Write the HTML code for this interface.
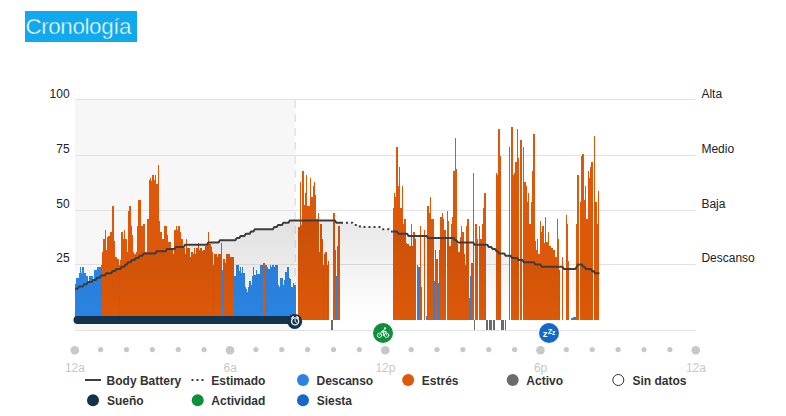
<!DOCTYPE html><html><head><meta charset="utf-8"><title>Cronología</title><style>
html,body{margin:0;padding:0;background:#fff;}
body{width:786px;height:416px;position:relative;overflow:hidden;font-family:"Liberation Sans",sans-serif;}
.t{position:absolute;white-space:nowrap;line-height:1;}
.yl{font-size:12px;color:#222;}
.xl{font-size:12px;color:#c8c8c8;width:40px;text-align:center;}
.lg{font-size:12px;font-weight:bold;color:#333;}
#title{left:25px;top:11px;width:112px;height:31px;background:#11a9ed;color:#fff;font-size:22.4px;letter-spacing:-0.38px;}
#title span{position:absolute;left:0.4px;top:4.4px;line-height:24px;-webkit-text-stroke:0.45px #11a9ed;}
</style></head><body>
<div class="t" id="title"><span>Cronología</span></div>
<svg width="786" height="416" viewBox="0 0 786 416" style="position:absolute;left:0;top:0">
<defs><linearGradient id="ag" x1="0" y1="0" x2="0" y2="1"><stop offset="0" stop-color="#000" stop-opacity="0.09"/><stop offset="1" stop-color="#000" stop-opacity="0"/></linearGradient></defs>
<rect x="75" y="100" width="220" height="230" fill="#f7f7f7"/>
<rect x="75" y="99" width="621" height="1" fill="#e1e1e1" shape-rendering="crispEdges"/>
<rect x="75" y="155" width="621" height="1" fill="#e1e1e1" shape-rendering="crispEdges"/>
<rect x="75" y="210" width="621" height="1" fill="#e1e1e1" shape-rendering="crispEdges"/>
<rect x="75" y="264" width="621" height="1" fill="#e1e1e1" shape-rendering="crispEdges"/>
<rect x="75" y="330" width="621" height="1" fill="#e1e1e1" shape-rendering="crispEdges"/>
<line x1="295.3" y1="100" x2="295.3" y2="316" stroke="#e4e4e4" stroke-width="1.6" stroke-dasharray="8 6"/>
<g shape-rendering="crispEdges">
<rect x="75" y="284" width="1" height="36" fill="#2b84e2"/>
<rect x="76" y="278" width="3" height="42" fill="#2b84e2"/>
<rect x="79" y="273" width="1" height="47" fill="#2b84e2"/>
<rect x="80" y="267" width="1" height="53" fill="#2b84e2"/>
<rect x="81" y="273" width="1" height="47" fill="#2b84e2"/>
<rect x="82" y="267" width="2" height="53" fill="#2b84e2"/>
<rect x="84" y="273" width="2" height="47" fill="#2b84e2"/>
<rect x="86" y="276" width="2" height="44" fill="#2b84e2"/>
<rect x="88" y="282" width="1" height="38" fill="#2b84e2"/>
<rect x="89" y="276" width="4" height="44" fill="#2b84e2"/>
<rect x="93" y="281" width="1" height="39" fill="#2b84e2"/>
<rect x="94" y="270" width="3" height="50" fill="#2b84e2"/>
<rect x="97" y="267" width="4" height="53" fill="#2b84e2"/>
<rect x="101" y="265" width="1" height="55" fill="#2b84e2"/>
<rect x="102" y="252" width="1" height="68" fill="#dd5809"/>
<rect x="103" y="239" width="2" height="81" fill="#dd5809"/>
<rect x="105" y="230" width="1" height="90" fill="#dd5809"/>
<rect x="106" y="250" width="1" height="70" fill="#dd5809"/>
<rect x="107" y="237" width="1" height="83" fill="#dd5809"/>
<rect x="108" y="236" width="2" height="84" fill="#dd5809"/>
<rect x="110" y="232" width="2" height="88" fill="#dd5809"/>
<rect x="112" y="206" width="2" height="114" fill="#dd5809"/>
<rect x="114" y="241" width="1" height="79" fill="#dd5809"/>
<rect x="115" y="257" width="2" height="63" fill="#dd5809"/>
<rect x="117" y="259" width="1" height="61" fill="#dd5809"/>
<rect x="118" y="259" width="1" height="61" fill="#dd5809"/>
<rect x="119" y="265" width="1" height="55" fill="#2b84e2"/>
<rect x="120" y="260" width="1" height="60" fill="#dd5809"/>
<rect x="121" y="232" width="2" height="88" fill="#dd5809"/>
<rect x="123" y="239" width="1" height="81" fill="#dd5809"/>
<rect x="124" y="230" width="1" height="90" fill="#dd5809"/>
<rect x="125" y="239" width="2" height="81" fill="#dd5809"/>
<rect x="127" y="252" width="1" height="68" fill="#dd5809"/>
<rect x="128" y="211" width="1" height="109" fill="#dd5809"/>
<rect x="129" y="206" width="2" height="114" fill="#dd5809"/>
<rect x="131" y="226" width="1" height="94" fill="#dd5809"/>
<rect x="132" y="235" width="1" height="85" fill="#dd5809"/>
<rect x="133" y="252" width="1" height="68" fill="#dd5809"/>
<rect x="134" y="254" width="2" height="66" fill="#dd5809"/>
<rect x="136" y="252" width="1" height="68" fill="#dd5809"/>
<rect x="137" y="226" width="1" height="94" fill="#dd5809"/>
<rect x="138" y="200" width="3" height="120" fill="#dd5809"/>
<rect x="141" y="226" width="2" height="94" fill="#dd5809"/>
<rect x="143" y="224" width="2" height="96" fill="#dd5809"/>
<rect x="145" y="252" width="2" height="68" fill="#dd5809"/>
<rect x="147" y="219" width="2" height="101" fill="#dd5809"/>
<rect x="149" y="180" width="1" height="140" fill="#dd5809"/>
<rect x="150" y="178" width="1" height="142" fill="#dd5809"/>
<rect x="151" y="181" width="1" height="139" fill="#dd5809"/>
<rect x="152" y="175" width="2" height="145" fill="#dd5809"/>
<rect x="154" y="180" width="1" height="140" fill="#dd5809"/>
<rect x="155" y="175" width="1" height="145" fill="#dd5809"/>
<rect x="156" y="184" width="2" height="136" fill="#dd5809"/>
<rect x="158" y="165" width="1" height="155" fill="#dd5809"/>
<rect x="159" y="221" width="1" height="99" fill="#dd5809"/>
<rect x="160" y="232" width="2" height="88" fill="#dd5809"/>
<rect x="162" y="239" width="2" height="81" fill="#dd5809"/>
<rect x="164" y="226" width="3" height="94" fill="#dd5809"/>
<rect x="167" y="235" width="1" height="85" fill="#dd5809"/>
<rect x="168" y="242" width="3" height="78" fill="#dd5809"/>
<rect x="171" y="248" width="2" height="72" fill="#dd5809"/>
<rect x="173" y="254" width="1" height="66" fill="#dd5809"/>
<rect x="174" y="230" width="2" height="90" fill="#dd5809"/>
<rect x="176" y="226" width="1" height="94" fill="#dd5809"/>
<rect x="177" y="230" width="1" height="90" fill="#dd5809"/>
<rect x="178" y="226" width="2" height="94" fill="#dd5809"/>
<rect x="180" y="232" width="1" height="88" fill="#dd5809"/>
<rect x="181" y="239" width="2" height="81" fill="#dd5809"/>
<rect x="183" y="248" width="2" height="72" fill="#dd5809"/>
<rect x="185" y="254" width="1" height="66" fill="#dd5809"/>
<rect x="186" y="239" width="1" height="81" fill="#dd5809"/>
<rect x="187" y="248" width="3" height="72" fill="#dd5809"/>
<rect x="190" y="257" width="1" height="63" fill="#dd5809"/>
<rect x="191" y="252" width="2" height="68" fill="#dd5809"/>
<rect x="193" y="254" width="1" height="66" fill="#dd5809"/>
<rect x="194" y="248" width="1" height="72" fill="#dd5809"/>
<rect x="195" y="254" width="1" height="66" fill="#dd5809"/>
<rect x="196" y="248" width="2" height="72" fill="#dd5809"/>
<rect x="198" y="243" width="1" height="77" fill="#dd5809"/>
<rect x="199" y="250" width="1" height="70" fill="#dd5809"/>
<rect x="200" y="248" width="2" height="72" fill="#dd5809"/>
<rect x="202" y="251" width="1" height="69" fill="#dd5809"/>
<rect x="203" y="250" width="2" height="70" fill="#dd5809"/>
<rect x="205" y="246" width="2" height="74" fill="#dd5809"/>
<rect x="207" y="243" width="1" height="77" fill="#dd5809"/>
<rect x="208" y="232" width="1" height="88" fill="#dd5809"/>
<rect x="209" y="244" width="2" height="76" fill="#dd5809"/>
<rect x="211" y="247" width="1" height="73" fill="#dd5809"/>
<rect x="212" y="252" width="1" height="68" fill="#dd5809"/>
<rect x="213" y="265" width="1" height="55" fill="#2b84e2"/>
<rect x="214" y="254" width="3" height="66" fill="#dd5809"/>
<rect x="217" y="257" width="1" height="63" fill="#dd5809"/>
<rect x="218" y="254" width="3" height="66" fill="#dd5809"/>
<rect x="221" y="243" width="1" height="77" fill="#dd5809"/>
<rect x="222" y="270" width="1" height="50" fill="#2b84e2"/>
<rect x="223" y="259" width="2" height="61" fill="#dd5809"/>
<rect x="225" y="263" width="1" height="57" fill="#dd5809"/>
<rect x="226" y="254" width="4" height="66" fill="#dd5809"/>
<rect x="230" y="257" width="4" height="63" fill="#dd5809"/>
<rect x="234" y="276" width="2" height="44" fill="#2b84e2"/>
<rect x="236" y="265" width="3" height="55" fill="#2b84e2"/>
<rect x="239" y="271" width="1" height="49" fill="#2b84e2"/>
<rect x="240" y="267" width="1" height="53" fill="#2b84e2"/>
<rect x="241" y="273" width="1" height="47" fill="#2b84e2"/>
<rect x="242" y="267" width="1" height="53" fill="#2b84e2"/>
<rect x="243" y="273" width="2" height="47" fill="#2b84e2"/>
<rect x="245" y="287" width="1" height="33" fill="#2b84e2"/>
<rect x="246" y="289" width="1" height="31" fill="#2b84e2"/>
<rect x="247" y="292" width="1" height="28" fill="#2b84e2"/>
<rect x="248" y="287" width="1" height="33" fill="#2b84e2"/>
<rect x="249" y="281" width="2" height="39" fill="#2b84e2"/>
<rect x="251" y="285" width="1" height="35" fill="#2b84e2"/>
<rect x="252" y="276" width="1" height="44" fill="#2b84e2"/>
<rect x="253" y="267" width="1" height="53" fill="#2b84e2"/>
<rect x="254" y="275" width="2" height="45" fill="#2b84e2"/>
<rect x="256" y="270" width="1" height="50" fill="#2b84e2"/>
<rect x="257" y="274" width="3" height="46" fill="#2b84e2"/>
<rect x="260" y="265" width="3" height="55" fill="#2b84e2"/>
<rect x="263" y="263" width="2" height="57" fill="#dd5809"/>
<rect x="265" y="265" width="2" height="55" fill="#2b84e2"/>
<rect x="267" y="267" width="1" height="53" fill="#2b84e2"/>
<rect x="268" y="269" width="2" height="51" fill="#2b84e2"/>
<rect x="270" y="265" width="1" height="55" fill="#2b84e2"/>
<rect x="271" y="267" width="1" height="53" fill="#2b84e2"/>
<rect x="272" y="265" width="2" height="55" fill="#2b84e2"/>
<rect x="274" y="267" width="1" height="53" fill="#2b84e2"/>
<rect x="275" y="265" width="3" height="55" fill="#2b84e2"/>
<rect x="278" y="285" width="1" height="35" fill="#2b84e2"/>
<rect x="279" y="287" width="1" height="33" fill="#2b84e2"/>
<rect x="280" y="278" width="3" height="42" fill="#2b84e2"/>
<rect x="283" y="285" width="1" height="35" fill="#2b84e2"/>
<rect x="284" y="280" width="1" height="40" fill="#2b84e2"/>
<rect x="285" y="272" width="2" height="48" fill="#2b84e2"/>
<rect x="287" y="267" width="2" height="53" fill="#2b84e2"/>
<rect x="289" y="278" width="1" height="42" fill="#2b84e2"/>
<rect x="290" y="279" width="1" height="41" fill="#2b84e2"/>
<rect x="291" y="287" width="2" height="33" fill="#2b84e2"/>
<rect x="293" y="283" width="1" height="37" fill="#2b84e2"/>
<rect x="294" y="285" width="2" height="35" fill="#2b84e2"/>
<rect x="298" y="227" width="2" height="93" fill="#dd5809"/>
<rect x="300" y="182" width="1" height="138" fill="#dd5809"/>
<rect x="301" y="225" width="1" height="95" fill="#dd5809"/>
<rect x="302" y="171" width="2" height="149" fill="#dd5809"/>
<rect x="304" y="205" width="1" height="115" fill="#dd5809"/>
<rect x="305" y="193" width="1" height="127" fill="#dd5809"/>
<rect x="306" y="175" width="1" height="145" fill="#dd5809"/>
<rect x="307" y="206" width="3" height="114" fill="#dd5809"/>
<rect x="310" y="178" width="1" height="142" fill="#dd5809"/>
<rect x="311" y="197" width="2" height="123" fill="#dd5809"/>
<rect x="313" y="186" width="1" height="134" fill="#dd5809"/>
<rect x="314" y="182" width="1" height="138" fill="#dd5809"/>
<rect x="315" y="195" width="1" height="125" fill="#dd5809"/>
<rect x="316" y="219" width="2" height="101" fill="#dd5809"/>
<rect x="318" y="213" width="1" height="107" fill="#dd5809"/>
<rect x="319" y="252" width="1" height="68" fill="#dd5809"/>
<rect x="320" y="224" width="2" height="96" fill="#dd5809"/>
<rect x="322" y="239" width="1" height="81" fill="#dd5809"/>
<rect x="323" y="265" width="1" height="55" fill="#2b84e2"/>
<rect x="324" y="254" width="1" height="66" fill="#dd5809"/>
<rect x="325" y="252" width="2" height="68" fill="#dd5809"/>
<rect x="327" y="265" width="1" height="55" fill="#2b84e2"/>
<rect x="328" y="261" width="1" height="59" fill="#dd5809"/>
<rect x="333" y="213" width="2" height="107" fill="#dd5809"/>
<rect x="335" y="250" width="1" height="70" fill="#dd5809"/>
<rect x="336" y="276" width="1" height="44" fill="#2b84e2"/>
<rect x="337" y="246" width="1" height="74" fill="#dd5809"/>
<rect x="338" y="226" width="2" height="94" fill="#dd5809"/>
<rect x="393" y="208" width="1" height="112" fill="#dd5809"/>
<rect x="394" y="193" width="1" height="127" fill="#dd5809"/>
<rect x="395" y="197" width="1" height="123" fill="#dd5809"/>
<rect x="396" y="147" width="2" height="173" fill="#dd5809"/>
<rect x="398" y="186" width="1" height="134" fill="#dd5809"/>
<rect x="399" y="167" width="1" height="153" fill="#dd5809"/>
<rect x="400" y="208" width="2" height="112" fill="#dd5809"/>
<rect x="402" y="186" width="1" height="134" fill="#dd5809"/>
<rect x="403" y="224" width="1" height="96" fill="#dd5809"/>
<rect x="404" y="219" width="2" height="101" fill="#dd5809"/>
<rect x="406" y="243" width="1" height="77" fill="#dd5809"/>
<rect x="407" y="244" width="2" height="76" fill="#dd5809"/>
<rect x="409" y="246" width="2" height="74" fill="#dd5809"/>
<rect x="411" y="224" width="1" height="96" fill="#dd5809"/>
<rect x="412" y="246" width="1" height="74" fill="#dd5809"/>
<rect x="413" y="232" width="2" height="88" fill="#dd5809"/>
<rect x="415" y="239" width="1" height="81" fill="#dd5809"/>
<rect x="417" y="265" width="1" height="55" fill="#2b84e2"/>
<rect x="418" y="267" width="2" height="53" fill="#2b84e2"/>
<rect x="420" y="226" width="1" height="94" fill="#dd5809"/>
<rect x="421" y="287" width="1" height="33" fill="#2b84e2"/>
<rect x="424" y="230" width="1" height="90" fill="#dd5809"/>
<rect x="426" y="316" width="1" height="4" fill="#2b84e2"/>
<rect x="427" y="206" width="2" height="114" fill="#dd5809"/>
<rect x="429" y="213" width="1" height="107" fill="#dd5809"/>
<rect x="430" y="197" width="1" height="123" fill="#dd5809"/>
<rect x="431" y="219" width="2" height="101" fill="#dd5809"/>
<rect x="433" y="219" width="1" height="101" fill="#dd5809"/>
<rect x="434" y="281" width="1" height="39" fill="#2b84e2"/>
<rect x="435" y="250" width="1" height="70" fill="#dd5809"/>
<rect x="436" y="259" width="2" height="61" fill="#dd5809"/>
<rect x="438" y="283" width="1" height="37" fill="#2b84e2"/>
<rect x="439" y="250" width="1" height="70" fill="#dd5809"/>
<rect x="440" y="217" width="2" height="103" fill="#dd5809"/>
<rect x="442" y="213" width="1" height="107" fill="#dd5809"/>
<rect x="443" y="219" width="1" height="101" fill="#dd5809"/>
<rect x="444" y="230" width="2" height="90" fill="#dd5809"/>
<rect x="447" y="211" width="1" height="109" fill="#dd5809"/>
<rect x="448" y="221" width="1" height="99" fill="#dd5809"/>
<rect x="449" y="246" width="2" height="74" fill="#dd5809"/>
<rect x="451" y="224" width="1" height="96" fill="#dd5809"/>
<rect x="452" y="217" width="1" height="103" fill="#dd5809"/>
<rect x="453" y="171" width="2" height="149" fill="#dd5809"/>
<rect x="455" y="138" width="1" height="182" fill="#dd5809"/>
<rect x="456" y="169" width="1" height="151" fill="#dd5809"/>
<rect x="457" y="244" width="1" height="76" fill="#dd5809"/>
<rect x="458" y="252" width="2" height="68" fill="#dd5809"/>
<rect x="460" y="237" width="1" height="83" fill="#dd5809"/>
<rect x="461" y="226" width="1" height="94" fill="#dd5809"/>
<rect x="462" y="232" width="2" height="88" fill="#dd5809"/>
<rect x="464" y="254" width="1" height="66" fill="#dd5809"/>
<rect x="465" y="265" width="1" height="55" fill="#2b84e2"/>
<rect x="466" y="226" width="1" height="94" fill="#dd5809"/>
<rect x="467" y="219" width="2" height="101" fill="#dd5809"/>
<rect x="469" y="298" width="1" height="22" fill="#2b84e2"/>
<rect x="470" y="276" width="1" height="44" fill="#2b84e2"/>
<rect x="471" y="263" width="2" height="57" fill="#dd5809"/>
<rect x="473" y="173" width="1" height="147" fill="#dd5809"/>
<rect x="475" y="224" width="2" height="96" fill="#dd5809"/>
<rect x="477" y="239" width="1" height="81" fill="#dd5809"/>
<rect x="479" y="226" width="1" height="94" fill="#dd5809"/>
<rect x="480" y="239" width="2" height="81" fill="#dd5809"/>
<rect x="482" y="224" width="1" height="96" fill="#dd5809"/>
<rect x="483" y="208" width="1" height="112" fill="#dd5809"/>
<rect x="484" y="193" width="2" height="127" fill="#dd5809"/>
<rect x="496" y="173" width="1" height="147" fill="#dd5809"/>
<rect x="497" y="175" width="1" height="145" fill="#dd5809"/>
<rect x="498" y="129" width="2" height="191" fill="#dd5809"/>
<rect x="500" y="156" width="1" height="164" fill="#dd5809"/>
<rect x="509" y="147" width="1" height="173" fill="#dd5809"/>
<rect x="511" y="127" width="2" height="193" fill="#dd5809"/>
<rect x="513" y="175" width="1" height="145" fill="#dd5809"/>
<rect x="514" y="173" width="1" height="147" fill="#dd5809"/>
<rect x="515" y="162" width="2" height="158" fill="#dd5809"/>
<rect x="517" y="129" width="1" height="191" fill="#dd5809"/>
<rect x="518" y="158" width="1" height="162" fill="#dd5809"/>
<rect x="520" y="140" width="2" height="180" fill="#dd5809"/>
<rect x="523" y="147" width="1" height="173" fill="#dd5809"/>
<rect x="524" y="182" width="2" height="138" fill="#dd5809"/>
<rect x="526" y="186" width="1" height="134" fill="#dd5809"/>
<rect x="527" y="202" width="1" height="118" fill="#dd5809"/>
<rect x="528" y="193" width="1" height="127" fill="#dd5809"/>
<rect x="529" y="224" width="2" height="96" fill="#dd5809"/>
<rect x="531" y="202" width="1" height="118" fill="#dd5809"/>
<rect x="532" y="171" width="1" height="149" fill="#dd5809"/>
<rect x="533" y="134" width="2" height="186" fill="#dd5809"/>
<rect x="535" y="241" width="1" height="79" fill="#dd5809"/>
<rect x="536" y="250" width="1" height="70" fill="#dd5809"/>
<rect x="537" y="239" width="1" height="81" fill="#dd5809"/>
<rect x="538" y="254" width="2" height="66" fill="#dd5809"/>
<rect x="540" y="221" width="1" height="99" fill="#dd5809"/>
<rect x="541" y="232" width="1" height="88" fill="#dd5809"/>
<rect x="542" y="226" width="2" height="94" fill="#dd5809"/>
<rect x="544" y="243" width="1" height="77" fill="#dd5809"/>
<rect x="545" y="217" width="1" height="103" fill="#dd5809"/>
<rect x="546" y="242" width="2" height="78" fill="#dd5809"/>
<rect x="548" y="232" width="1" height="88" fill="#dd5809"/>
<rect x="549" y="246" width="2" height="74" fill="#dd5809"/>
<rect x="551" y="248" width="2" height="72" fill="#dd5809"/>
<rect x="553" y="250" width="2" height="70" fill="#dd5809"/>
<rect x="555" y="257" width="2" height="63" fill="#dd5809"/>
<rect x="557" y="219" width="1" height="101" fill="#dd5809"/>
<rect x="558" y="239" width="1" height="81" fill="#dd5809"/>
<rect x="559" y="270" width="1" height="50" fill="#2b84e2"/>
<rect x="562" y="257" width="1" height="63" fill="#dd5809"/>
<rect x="566" y="215" width="1" height="105" fill="#dd5809"/>
<rect x="567" y="224" width="1" height="96" fill="#dd5809"/>
<rect x="568" y="261" width="1" height="59" fill="#dd5809"/>
<rect x="571" y="318" width="2" height="2" fill="#2b84e2"/>
<rect x="573" y="317" width="3" height="3" fill="#2b84e2"/>
<rect x="576" y="224" width="1" height="96" fill="#dd5809"/>
<rect x="577" y="175" width="2" height="145" fill="#dd5809"/>
<rect x="580" y="202" width="1" height="118" fill="#dd5809"/>
<rect x="581" y="156" width="1" height="164" fill="#dd5809"/>
<rect x="582" y="154" width="2" height="166" fill="#dd5809"/>
<rect x="584" y="200" width="1" height="120" fill="#dd5809"/>
<rect x="585" y="186" width="1" height="134" fill="#dd5809"/>
<rect x="586" y="219" width="2" height="101" fill="#dd5809"/>
<rect x="588" y="171" width="1" height="149" fill="#dd5809"/>
<rect x="589" y="178" width="1" height="142" fill="#dd5809"/>
<rect x="590" y="167" width="1" height="153" fill="#dd5809"/>
<rect x="591" y="162" width="2" height="158" fill="#dd5809"/>
<rect x="594" y="136" width="1" height="184" fill="#dd5809"/>
<rect x="595" y="202" width="2" height="118" fill="#dd5809"/>
<rect x="597" y="224" width="1" height="96" fill="#dd5809"/>
<rect x="598" y="191" width="1" height="129" fill="#dd5809"/>
<rect x="331" y="320" width="2" height="10" fill="#6b6b6b"/>
<rect x="474" y="320" width="1" height="10" fill="#6b6b6b"/>
<rect x="486" y="320" width="2" height="10" fill="#6b6b6b"/>
<rect x="489" y="320" width="3" height="10" fill="#6b6b6b"/>
<rect x="493" y="320" width="2" height="10" fill="#6b6b6b"/>
<rect x="501" y="320" width="3" height="10" fill="#6b6b6b"/>
<rect x="505" y="320" width="1" height="10" fill="#6b6b6b"/>
</g>
<polygon points="75.0,288.7 77.6,288.7 78.9,286.5 82.8,286.5 84.1,284.3 86.6,284.3 87.9,282.1 91.8,282.1 93.1,279.9 95.7,279.9 97.0,277.7 99.6,277.7 100.9,275.5 104.8,275.5 106.1,273.3 111.2,273.3 112.5,271.1 115.1,271.1 116.4,268.9 120.3,268.9 121.6,266.7 124.2,266.7 125.5,264.5 126.8,264.5 128.0,262.3 130.6,262.3 131.9,260.1 134.5,260.1 135.8,257.9 138.4,257.9 139.7,255.7 142.3,255.7 143.6,253.5 155.2,253.5 156.5,251.3 165.6,251.3 166.9,249.1 174.6,249.1 175.9,246.9 183.7,246.9 185.0,244.7 207.0,244.7 208.3,242.5 218.6,242.5 219.9,240.3 235.4,240.3 236.7,238.1 239.3,238.1 240.6,235.9 244.5,235.9 245.8,233.7 249.7,233.7 250.9,231.5 253.5,231.5 254.8,229.3 272.9,229.3 274.2,227.1 276.8,227.1 278.1,224.9 282.0,224.9 283.3,222.7 288.5,222.7 289.8,220.5 335.0,220.5 336.3,222.7 341.0,222.7 352.6,222.7 353.9,224.9 359.1,224.9 360.4,227.1 379.8,227.1 381.1,229.3 388.9,229.3 390.2,231.5 392.7,231.5 396.9,231.5 398.2,233.7 407.2,233.7 408.5,235.9 426.6,235.9 427.9,238.1 453.8,238.1 455.1,240.3 456.4,240.3 457.7,242.5 473.2,242.5 474.5,244.7 487.4,244.7 488.7,246.9 491.3,246.9 492.6,249.1 495.2,249.1 496.5,251.3 497.8,251.3 499.1,253.5 504.3,253.5 505.6,255.7 510.7,255.7 512.0,257.9 517.2,257.9 518.5,260.1 522.4,260.1 523.7,262.3 534.0,262.3 535.3,264.5 540.5,264.5 541.8,266.7 562.5,266.7 563.8,268.9 575.4,268.9 576.7,266.7 578.0,264.5 581.9,264.5 583.2,266.7 584.5,266.7 585.8,268.9 590.9,268.9 592.2,271.1 593.5,271.1 594.8,273.3 599.5,273.3 599.5,320 75,320" fill="url(#ag)"/>
<polyline points="75.0,288.7 77.6,288.7 78.9,286.5 82.8,286.5 84.1,284.3 86.6,284.3 87.9,282.1 91.8,282.1 93.1,279.9 95.7,279.9 97.0,277.7 99.6,277.7 100.9,275.5 104.8,275.5 106.1,273.3 111.2,273.3 112.5,271.1 115.1,271.1 116.4,268.9 120.3,268.9 121.6,266.7 124.2,266.7 125.5,264.5 126.8,264.5 128.0,262.3 130.6,262.3 131.9,260.1 134.5,260.1 135.8,257.9 138.4,257.9 139.7,255.7 142.3,255.7 143.6,253.5 155.2,253.5 156.5,251.3 165.6,251.3 166.9,249.1 174.6,249.1 175.9,246.9 183.7,246.9 185.0,244.7 207.0,244.7 208.3,242.5 218.6,242.5 219.9,240.3 235.4,240.3 236.7,238.1 239.3,238.1 240.6,235.9 244.5,235.9 245.8,233.7 249.7,233.7 250.9,231.5 253.5,231.5 254.8,229.3 272.9,229.3 274.2,227.1 276.8,227.1 278.1,224.9 282.0,224.9 283.3,222.7 288.5,222.7 289.8,220.5 335.0,220.5 336.3,222.7 341.0,222.7" fill="none" stroke="#3d3d3d" stroke-width="2" stroke-linejoin="round"/>
<polyline points="341.0,222.7 352.6,222.7 353.9,224.9 359.1,224.9 360.4,227.1 379.8,227.1 381.1,229.3 388.9,229.3 390.2,231.5 392.7,231.5" fill="none" stroke="#3d3d3d" stroke-width="2" stroke-dasharray="2 3"/>
<polyline points="392.7,231.5 396.9,231.5 398.2,233.7 407.2,233.7 408.5,235.9 426.6,235.9 427.9,238.1 453.8,238.1 455.1,240.3 456.4,240.3 457.7,242.5 473.2,242.5 474.5,244.7 487.4,244.7 488.7,246.9 491.3,246.9 492.6,249.1 495.2,249.1 496.5,251.3 497.8,251.3 499.1,253.5 504.3,253.5 505.6,255.7 510.7,255.7 512.0,257.9 517.2,257.9 518.5,260.1 522.4,260.1 523.7,262.3 534.0,262.3 535.3,264.5 540.5,264.5 541.8,266.7 562.5,266.7 563.8,268.9 575.4,268.9 576.7,266.7 578.0,264.5 581.9,264.5 583.2,266.7 584.5,266.7 585.8,268.9 590.9,268.9 592.2,271.1 593.5,271.1 594.8,273.3 599.5,273.3" fill="none" stroke="#3d3d3d" stroke-width="2" stroke-linejoin="round"/>
<rect x="73.5" y="316" width="222" height="8" rx="4" fill="#11334e"/>
<circle cx="294.7" cy="321.4" r="7.5" fill="#11334e"/>
<g fill="none" stroke="#fff" stroke-linecap="round"><circle cx="295.1" cy="321.4" r="3.5" stroke-width="1.35"/><path d="M295.1 319.6v1.9l1.4 1.2" stroke-width="1"/><path d="M291.7 318l1.7-1.4M298.5 318l-1.7-1.4" stroke-width="1.3"/></g>
<circle cx="383" cy="333" r="10.8" fill="#fff"/><circle cx="383" cy="333" r="10" fill="#0d8f3c"/>
<g fill="none" stroke="#fff" stroke-linecap="round" stroke-linejoin="round"><circle cx="379.5" cy="335.3" r="2.2" stroke-width="0.85"/><circle cx="386.6" cy="335.3" r="2.2" stroke-width="0.85"/><path d="M384.2 329.9L381.9 331.7L383.7 333V335.3M383.2 330.7L384.8 331.7H386.2" stroke-width="1.15"/><path d="M379.5 335.3L381.6 331.8M385.7 331.8L386.6 335.3" stroke-width="0.7"/></g><circle cx="385" cy="328.4" r="1.05" fill="#fff"/>
<circle cx="549" cy="333" r="10.8" fill="#fff"/><circle cx="549" cy="333" r="10" fill="#1668c8"/>
<g fill="#fff" font-family="Liberation Sans, sans-serif" font-weight="bold"><text x="542.8" y="337" font-size="9.5">z</text><text x="547.8" y="334" font-size="7.5">Z</text><text x="552" y="335.2" font-size="6.5">z</text></g>
<circle cx="74.75" cy="350.2" r="4.3" fill="#c8c8c8"/>
<circle cx="100.62" cy="349.6" r="2.6" fill="#c8c8c8"/>
<circle cx="126.50" cy="349.6" r="2.6" fill="#c8c8c8"/>
<circle cx="152.38" cy="349.6" r="2.6" fill="#c8c8c8"/>
<circle cx="178.25" cy="349.6" r="2.6" fill="#c8c8c8"/>
<circle cx="204.12" cy="349.6" r="2.6" fill="#c8c8c8"/>
<circle cx="230.00" cy="350.2" r="4.3" fill="#c8c8c8"/>
<circle cx="255.88" cy="349.6" r="2.6" fill="#c8c8c8"/>
<circle cx="281.75" cy="349.6" r="2.6" fill="#c8c8c8"/>
<circle cx="307.62" cy="349.6" r="2.6" fill="#c8c8c8"/>
<circle cx="333.50" cy="349.6" r="2.6" fill="#c8c8c8"/>
<circle cx="359.38" cy="349.6" r="2.6" fill="#c8c8c8"/>
<circle cx="385.25" cy="350.2" r="4.3" fill="#c8c8c8"/>
<circle cx="411.12" cy="349.6" r="2.6" fill="#c8c8c8"/>
<circle cx="437.00" cy="349.6" r="2.6" fill="#c8c8c8"/>
<circle cx="462.88" cy="349.6" r="2.6" fill="#c8c8c8"/>
<circle cx="488.75" cy="349.6" r="2.6" fill="#c8c8c8"/>
<circle cx="514.62" cy="349.6" r="2.6" fill="#c8c8c8"/>
<circle cx="540.50" cy="350.2" r="4.3" fill="#c8c8c8"/>
<circle cx="566.38" cy="349.6" r="2.6" fill="#c8c8c8"/>
<circle cx="592.25" cy="349.6" r="2.6" fill="#c8c8c8"/>
<circle cx="618.12" cy="349.6" r="2.6" fill="#c8c8c8"/>
<circle cx="644.00" cy="349.6" r="2.6" fill="#c8c8c8"/>
<circle cx="669.88" cy="349.6" r="2.6" fill="#c8c8c8"/>
<circle cx="695.75" cy="350.2" r="4.3" fill="#c8c8c8"/>
<rect x="85" y="379" width="16" height="2" fill="#3d3d3d"/>
<line x1="191.5" y1="380" x2="204" y2="380" stroke="#3d3d3d" stroke-width="2" stroke-dasharray="2 3"/>
<circle cx="303" cy="380" r="6" fill="#2b84e2"/>
<circle cx="408.2" cy="380" r="6" fill="#dd5809"/>
<circle cx="512.7" cy="380" r="6" fill="#6b6b6b"/>
<circle cx="93" cy="400.2" r="6" fill="#11334e"/>
<circle cx="197.7" cy="400.2" r="6" fill="#0d8f3c"/>
<circle cx="303" cy="400.2" r="6" fill="#1668c8"/>
<circle cx="618.3" cy="380" r="5.5" fill="#fff" stroke="#333" stroke-width="1"/>
</svg>
<div class="t yl" style="right:716.4px;top:87.7px">100</div>
<div class="t yl" style="right:716.4px;top:142.7px">75</div>
<div class="t yl" style="right:716.4px;top:197.7px">50</div>
<div class="t yl" style="right:716.4px;top:252.2px">25</div>
<div class="t yl" style="left:701.4px;top:88.2px">Alta</div>
<div class="t yl" style="left:701.4px;top:143.2px">Medio</div>
<div class="t yl" style="left:701.4px;top:198.2px">Baja</div>
<div class="t yl" style="left:701.4px;top:252.0px">Descanso</div>
<div class="t xl" style="left:54.9px;top:361.8px">12a</div>
<div class="t xl" style="left:210.2px;top:361.8px">6a</div>
<div class="t xl" style="left:365.4px;top:361.8px">12p</div>
<div class="t xl" style="left:520.6px;top:361.8px">6p</div>
<div class="t xl" style="left:675.9px;top:361.8px">12a</div>
<div class="t lg" style="left:106.6px;top:374.8px">Body Battery</div>
<div class="t lg" style="left:211.3px;top:374.8px">Estimado</div>
<div class="t lg" style="left:316.5px;top:374.8px">Descanso</div>
<div class="t lg" style="left:421.8px;top:374.8px">Estrés</div>
<div class="t lg" style="left:526.3px;top:374.8px">Activo</div>
<div class="t lg" style="left:632.5px;top:374.8px">Sin datos</div>
<div class="t lg" style="left:107px;top:395.0px">Sueño</div>
<div class="t lg" style="left:211.3px;top:395.0px">Actividad</div>
<div class="t lg" style="left:316.7px;top:395.0px">Siesta</div>
</body></html>
